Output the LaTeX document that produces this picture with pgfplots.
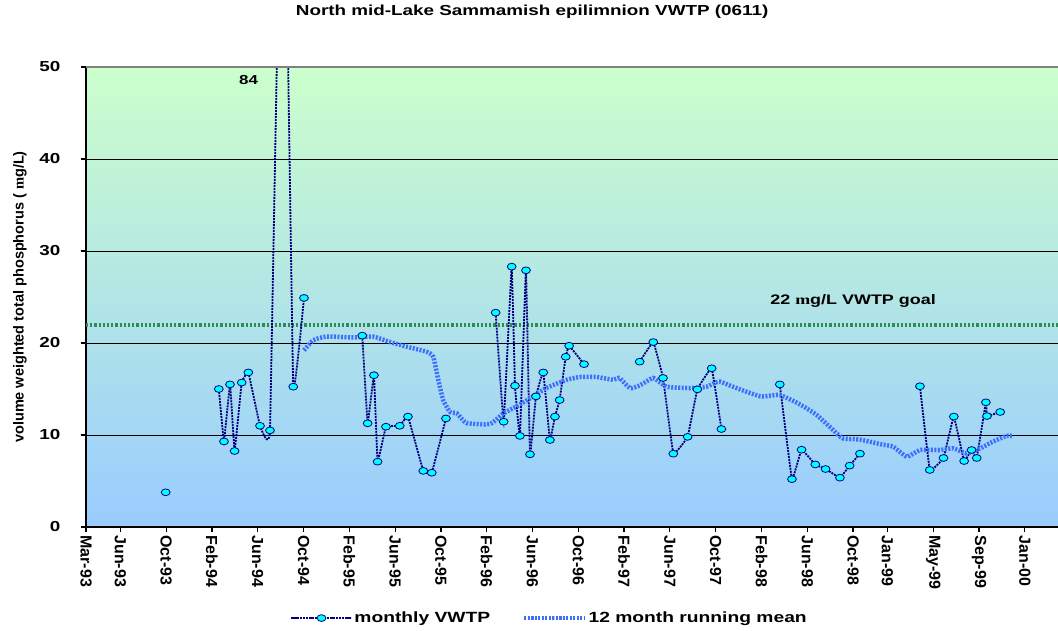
\documentclass[border=0pt]{standalone}
\usepackage{fontspec}
\setmainfont{Liberation Sans}
\newfontfamily\wfont{Liberation Sans}[FakeStretch=1.3]
\newfontfamily\mfont{Liberation Serif}[FakeStretch=1.3]
\newfontfamily\mfontr{Liberation Serif}
\usepackage{pgfplots}
\pgfplotsset{compat=1.18}
\usepackage{pgfplotstable}
\definecolor{bgtop}{RGB}{204,255,204}
\definecolor{bgbot}{RGB}{153,204,255}
\definecolor{navyc}{RGB}{0,0,128}
\definecolor{meanblue}{RGB}{60,110,255}
\definecolor{goalgreen}{RGB}{46,139,87}
\definecolor{markcyan}{RGB}{0,255,255}

\pgfplotstableread{
m v
8.96 3.77
nan nan
13.6 15.0
14.05 9.3
14.58 15.5
14.98 8.26
15.6 15.7
16.18 16.8
17.2 11.0
18.07 10.5
19.2 84
20.1 15.25
21.04 24.9
nan nan
26.13 20.8
26.6 11.27
27.15 16.5
27.47 7.1
28.2 10.9
29.4 11.0
30.12 12.0
31.46 6.1
32.2 5.9
33.44 11.8
nan nan
37.78 23.3
38.48 11.45
39.18 28.3
39.47 15.36
39.9 9.9
40.43 27.9
40.78 7.9
41.3 14.2
41.94 16.8
42.52 9.46
42.96 12.0
43.37 13.8
43.9 18.5
44.2 19.7
45.5 17.7
nan nan
50.36 17.97
51.55 20.1
52.4 16.2
53.3 7.97
54.55 9.8
55.4 14.96
56.65 17.25
57.5 10.65
nan nan
62.6 15.5
63.66 5.2
64.5 8.4
65.7 6.8
66.6 6.3
67.85 5.36
68.7 6.67
69.6 7.97
nan nan
74.84 15.3
75.7 6.2
76.9 7.5
77.8 12.0
78.7 7.17
79.35 8.37
79.8 7.5
80.6 13.55
80.7 12.06
81.85 12.5
}\monthly

\pgfplotstableread{
m v
21.04 19.2
21.85 20.3
23.0 20.7
25.35 20.6
27.07 20.7
28.55 20.1
30.0 19.6
31.75 19.05
32.33 18.5
32.77 16.0
33.2 13.8
33.8 12.5
34.4 12.35
35.25 11.3
37.3 11.2
38.45 12.35
39.6 13.1
40.8 14.0
42.2 15.1
44.0 16.0
45.15 16.3
46.6 16.3
48.05 16.0
48.6 16.2
49.5 15.1
50.4 15.4
51.55 16.2
52.7 15.25
54.8 15.1
56.2 15.25
56.8 15.6
57.4 15.8
58.5 15.25
60.9 14.2
62.6 14.35
64.4 13.3
65.8 12.2
67.3 10.5
68.1 9.64
69.6 9.5
71.4 9.0
72.5 8.73
73.7 7.64
74.85 8.37
76.6 8.37
77.75 8.55
78.9 8.0
80.1 8.55
81.2 9.27
82.4 9.9
82.96 9.9
}\runmean

\begin{document}
\begin{tikzpicture}
\path[use as bounding box] (-86pt,-104pt) rectangle (972pt,527pt);
\begin{axis}[
  scale only axis, width=972pt, height=460pt,
  at={(0pt,0pt)}, anchor=south west,
  xmin=2, xmax=86.9, ymin=0, ymax=50,
  axis lines*=left,
  x axis line style={-, line width=2.5pt, black},
  y axis line style={-, line width=1.5pt, black},
  axis background/.style={shade, top color=bgtop, bottom color=bgbot},
  xtick={2,5,9,13,17,21,25,29,33,37,41,45,49,53,57,61,65,69,72,76,80,84},
  xticklabels={Mar-93,Jun-93,Oct-93,Feb-94,Jun-94,Oct-94,Feb-95,Jun-95,Oct-95,Feb-96,Jun-96,Oct-96,Feb-97,Jun-97,Oct-97,Feb-98,Jun-98,Oct-98,Jan-99,May-99,Sep-99,Jan-00},
  xticklabel style={rotate=-90, anchor=west, font=\bfseries\fontsize{16}{16}\selectfont},
  ytick={0,10,20,30,40,50},
  yticklabel style={font=\wfont\bfseries\fontsize{14.5}{15}\selectfont, xshift=-17pt},
  /pgf/number format/assume math mode=true,
  tick align=outside, major tick length=5pt,
  every tick/.style={black, line width=1.2pt},
  ymajorgrids, major grid style={black, line width=0.8pt},
  title={North mid-Lake Sammamish epilimnion VWTP (0611)},
  title style={font=\wfont\bfseries\fontsize{14.5}{15}\selectfont, at={(axis description cs:0.459,1.107)}, anchor=center},
  ylabel={volume weighted total phosphorus ( {\mfontr m}g/L)},
  ylabel style={font=\bfseries\fontsize{14.5}{15}\selectfont, at={(axis description cs:-0.068,0.5)}, anchor=center},
  unbounded coords=jump,
  legend image code/.code={\draw[mark repeat=2,mark phase=2,#1] plot coordinates {(0pt,0pt) (30pt,0pt) (60pt,0pt)};},
  legend columns=2,
  legend style={at={(axis description cs:0.477,-0.198)}, anchor=center, draw=none, fill=none,
    font=\wfont\bfseries\fontsize{14.8}{15}\selectfont,
    /tikz/every even column/.append style={column sep=30pt}},
]
\addplot[goalgreen, line width=4pt, dash pattern=on 2.2pt off 2pt, forget plot] coordinates {(2,22) (86.9,22)};
\addplot[navyc, line width=1.8pt, dash pattern=on 2pt off 1pt, smooth, tension=0.12,
  mark=*, mark size=3.4pt, mark options={solid, fill=markcyan, draw=navyc, line width=0.8pt, xscale=1.3}]
  table[x=m, y=v] {\monthly};
\addlegendentry{monthly VWTP}
\addplot[meanblue, line width=4.5pt, dash pattern=on 2pt off 1.5pt, smooth, tension=0.3] table[x=m, y=v] {\runmean};
\addlegendentry{12 month running mean}
\draw[gray, line width=2.5pt] (rel axis cs:0,1) -- (rel axis cs:1,1);
\node[font=\wfont\bfseries\fontsize{13}{13}\selectfont] at (axis cs:16.2,48.6) {84};
\node[font=\wfont\bfseries\fontsize{13.8}{15}\selectfont] at (axis cs:69.0,24.6) {22 {\mfont m}g/L VWTP goal};
\end{axis}
\end{tikzpicture}
\end{document}
